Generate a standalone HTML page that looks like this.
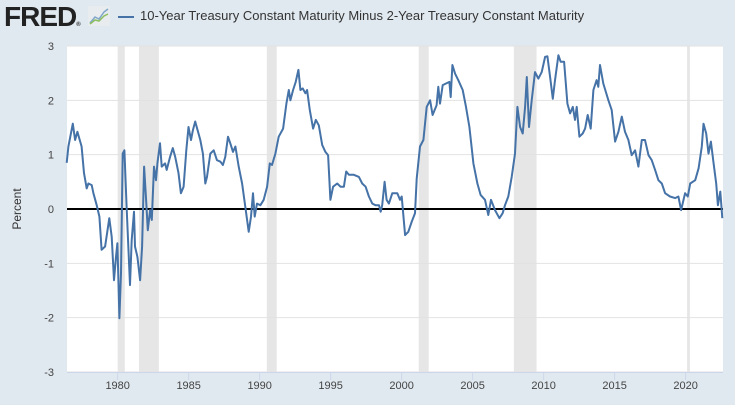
<!DOCTYPE html>
<html><head><meta charset="utf-8"><style>
body{margin:0;background:#e1e9f0;font-family:"Liberation Sans",sans-serif;}
#wrap{position:relative;width:735px;height:405px;overflow:hidden;background:#e1e9f0;}
.logo{position:absolute;left:4px;top:1px;font-weight:bold;font-size:28px;color:#222;letter-spacing:-1px;font-family:"Liberation Sans",sans-serif;}
.legend{position:absolute;left:118px;top:8px;font-size:13px;color:#333;}
.legend span.ln{display:inline-block;width:16px;height:2px;background:#4572a7;vertical-align:middle;margin-right:6px;}
</style></head><body>
<div id="wrap">
<div class="logo">FRED<span style="font-size:6px">®</span></div>
<svg style="position:absolute;left:88px;top:6px" width="22" height="20"><rect width="22" height="20" fill="#e8ecef"/><polyline points="2,17 7,11 11,13 16,6 20,3" fill="none" stroke="#7fa6c9" stroke-width="1.5"/><polyline points="2,18 7,14 11,15 16,10 20,8" fill="none" stroke="#8cbf5f" stroke-width="1.5"/></svg>
<div class="legend"><span class="ln"></span>10-Year Treasury Constant Maturity Minus 2-Year Treasury Constant Maturity</div>
<svg id="chart" width="735" height="405" style="position:absolute;left:0;top:0"></svg>
</div>
<script>
const years=[1976.41,1976.53,1976.84,1977.0,1977.16,1977.46,1977.63,1977.82,1977.94,1978.17,1978.29,1978.52,1978.71,1978.87,1979.11,1979.41,1979.58,1979.74,1979.88,1979.98,1980.12,1980.23,1980.35,1980.47,1980.63,1980.87,1980.99,1981.15,1981.22,1981.39,1981.58,1981.72,1981.86,1982.0,1982.12,1982.28,1982.40,1982.56,1982.70,1982.80,1982.98,1983.10,1983.34,1983.45,1983.69,1983.88,1984.05,1984.28,1984.45,1984.64,1984.83,1984.99,1985.16,1985.30,1985.46,1985.63,1985.82,1986.00,1986.17,1986.29,1986.52,1986.76,1986.99,1987.23,1987.41,1987.58,1987.77,1987.93,1988.12,1988.29,1988.52,1988.76,1988.99,1989.23,1989.39,1989.53,1989.65,1989.81,1990.05,1990.28,1990.52,1990.71,1990.87,1991.11,1991.34,1991.65,1991.88,1992.05,1992.16,1992.35,1992.54,1992.73,1992.87,1993.03,1993.22,1993.34,1993.53,1993.76,1993.95,1994.16,1994.40,1994.63,1994.82,1994.98,1995.17,1995.46,1995.69,1995.93,1996.09,1996.28,1996.63,1996.99,1997.22,1997.46,1997.69,1997.93,1998.16,1998.40,1998.52,1998.63,1998.80,1998.94,1999.10,1999.34,1999.69,1999.88,2000.00,2000.24,2000.47,2000.71,2000.94,2001.06,2001.29,2001.53,2001.76,2002.00,2002.18,2002.46,2002.58,2002.70,2002.89,2003.12,2003.36,2003.45,2003.57,2003.76,2003.99,2004.30,2004.53,2004.77,2005.05,2005.33,2005.56,2005.87,2006.10,2006.29,2006.57,2006.88,2007.11,2007.28,2007.51,2007.75,2007.98,2008.15,2008.34,2008.52,2008.69,2008.81,2008.97,2009.16,2009.39,2009.63,2009.86,2010.10,2010.26,2010.45,2010.64,2010.80,2011.04,2011.20,2011.44,2011.67,2011.86,2012.05,2012.21,2012.33,2012.52,2012.75,2012.92,2013.10,2013.31,2013.50,2013.73,2013.85,2013.97,2014.20,2014.56,2014.79,2015.03,2015.26,2015.50,2015.73,2015.97,2016.20,2016.44,2016.67,2016.91,2017.14,2017.38,2017.61,2017.85,2018.08,2018.32,2018.55,2018.90,2019.26,2019.49,2019.68,2019.96,2020.15,2020.32,2020.67,2020.91,2021.14,2021.26,2021.45,2021.61,2021.78,2021.97,2022.15,2022.27,2022.44,2022.58];
const spread=[0.85,1.15,1.57,1.27,1.42,1.15,0.66,0.38,0.47,0.44,0.29,0.07,-0.14,-0.75,-0.69,-0.17,-0.51,-1.31,-0.88,-0.63,-2.01,-1.18,1.02,1.08,0.04,-1.40,-0.57,-0.05,-0.69,-0.88,-1.31,-0.69,0.78,0.17,-0.39,-0.02,-0.20,0.78,0.53,0.84,1.21,0.78,0.84,0.72,0.96,1.12,0.96,0.66,0.29,0.41,1.08,1.51,1.27,1.45,1.61,1.45,1.27,1.02,0.47,0.59,1.02,1.08,0.90,0.87,0.81,0.96,1.33,1.21,1.05,1.15,0.78,0.47,0.04,-0.42,-0.14,0.29,-0.14,0.10,0.07,0.17,0.41,0.84,0.81,1.02,1.33,1.48,1.94,2.19,2.00,2.19,2.34,2.56,2.19,2.22,2.13,2.19,1.82,1.48,1.64,1.54,1.18,1.05,0.99,0.17,0.41,0.47,0.41,0.41,0.69,0.63,0.63,0.59,0.47,0.41,0.23,0.10,0.07,0.07,-0.05,0.07,0.50,0.17,0.10,0.29,0.29,0.17,0.23,-0.48,-0.42,-0.23,-0.08,0.56,1.15,1.27,1.88,2.00,1.73,1.91,2.25,1.94,2.28,2.31,2.34,2.06,2.65,2.49,2.37,2.19,1.88,1.51,0.84,0.47,0.26,0.17,-0.11,0.17,-0.02,-0.17,-0.08,0.07,0.23,0.59,1.02,1.88,1.51,1.39,1.88,2.43,1.51,2.00,2.52,2.40,2.52,2.80,2.81,2.43,2.03,2.37,2.83,2.71,2.71,1.94,1.76,1.88,1.64,1.88,1.33,1.39,1.48,1.73,1.48,2.19,2.37,2.25,2.65,2.31,2.00,1.82,1.24,1.42,1.70,1.42,1.27,0.99,1.08,0.78,1.27,1.27,0.99,0.90,0.72,0.53,0.47,0.29,0.23,0.20,0.23,-0.02,0.29,0.23,0.47,0.53,0.75,1.15,1.57,1.39,1.02,1.24,0.84,0.47,0.07,0.32,-0.17];
const recStart=[1980.0,1981.5,1990.5,2001.2,2007.9,2020.1];
const recEnd=[1980.5,1982.9,1991.2,2001.9,2009.5,2020.3];
const yTicks=[3,2,1,0,-1,-2,-3];
const xTicks=[1980,1985,1990,1995,2000,2005,2010,2015,2020];

const NS="http://www.w3.org/2000/svg";
const svg=document.getElementById('chart');
const L=67,R=723,T=46,B=372,x0=1976.43,x1=2022.63;
const X=v=>L+(v-x0)/(x1-x0)*(R-L);
const Y=v=>T+(3-v)/6*(B-T);
function mk(t,a){const e=document.createElementNS(NS,t);for(const k in a)e.setAttribute(k,a[k]);svg.appendChild(e);return e;}
const bg=mk('rect',{x:L,y:T,width:R-L,height:B-T,fill:'#fff'});


recStart.forEach((s,i)=>{const r=mk('rect',{x:X(s),y:T,width:X(recEnd[i])-X(s),height:B-T,fill:'#e6e6e6'});

});
yTicks.forEach(v=>{const g=mk('line',{x1:L,x2:R,y1:Y(v),y2:Y(v),stroke:'#e2e2e2','stroke-width':1});


const t=mk('text',{x:54,y:Y(v)+4,'text-anchor':'end','font-size':11,fill:'#444','font-family':'Liberation Sans'});t.textContent=v;

});
const ax=mk('line',{x1:L,x2:R,y1:B+0.5,y2:B+0.5,stroke:'#ccd6eb','stroke-width':1});


xTicks.forEach(v=>{const tk=mk('line',{x1:X(v),x2:X(v),y1:B,y2:B+8,stroke:'#ccd6eb'});


const t=mk('text',{x:X(v),y:B+17,'text-anchor':'middle','font-size':11,fill:'#444','font-family':'Liberation Sans'});t.textContent=v;

});
const zl=mk('line',{x1:L,x2:R,y1:Y(0),y2:Y(0),stroke:'#000','stroke-width':2});


const p=mk('polyline',{points:years.map((y,i)=>X(y).toFixed(1)+','+Y(spread[i]).toFixed(1)).join(' '),fill:'none',stroke:'#4572a7','stroke-width':2,'stroke-linejoin':'round'});


const yt=mk('text',{x:0,y:0,transform:'translate(21,209) rotate(-90)','text-anchor':'middle','font-size':12,fill:'#333','font-family':'Liberation Sans'});yt.textContent='Percent';


</script>
</body></html>
